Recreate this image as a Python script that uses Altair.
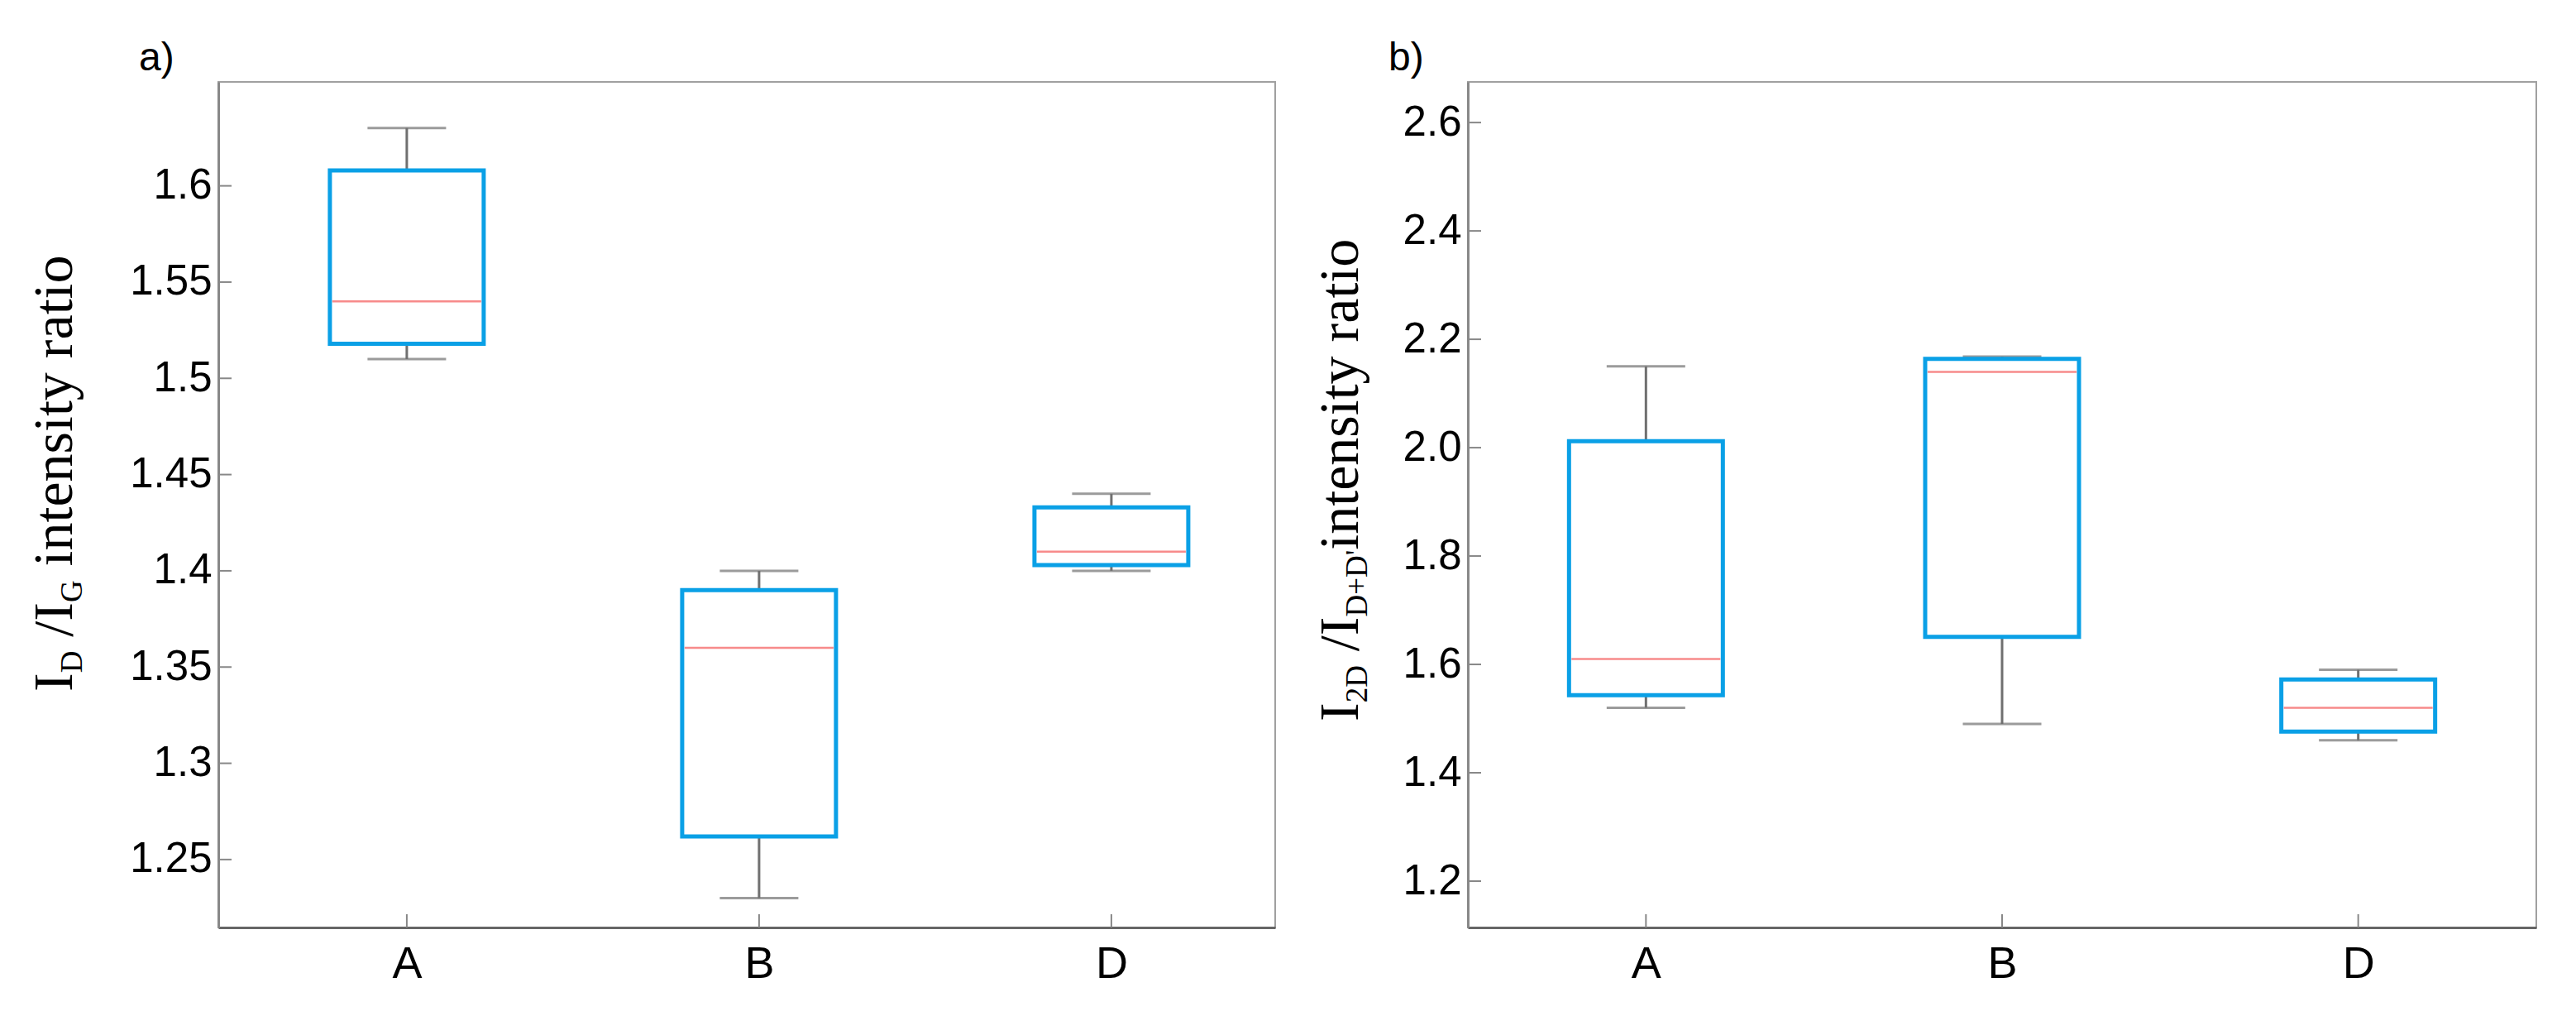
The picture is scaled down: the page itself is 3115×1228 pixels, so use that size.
import altair as alt
import pandas as pd

categories = ["A", "B", "D"]

# panel a) I_D/I_G
a_low = [1.51, 1.23, 1.40]
a_q1 = [1.518, 1.262, 1.403]
a_med = [1.54, 1.36, 1.41]
a_q3 = [1.608, 1.39, 1.433]
a_high = [1.63, 1.40, 1.44]
a_ticks = [1.25, 1.3, 1.35, 1.4, 1.45, 1.5, 1.55, 1.6]

# panel b) I_2D/I_D+D'
b_low = [1.52, 1.49, 1.46]
b_q1 = [1.543, 1.651, 1.476]
b_med = [1.61, 2.14, 1.52]
b_q3 = [2.012, 2.164, 1.572]
b_high = [2.15, 2.168, 1.59]
b_ticks = [1.2, 1.4, 1.6, 1.8, 2.0, 2.2, 2.4, 2.6]

H = 1022
BLUE = "#0aa0e6"
GRAY = "#707070"
RED = "#f45a5a"
SANS = "Liberation Sans"
SERIF = "Liberation Serif"

CW = {'I': .333, 'D': .722, 'G': .722, ' ': .25, '/': .278, 'i': .278, 'n': .5,
      't': .278, 'e': .444, 's': .389, 'y': .5, 'r': .333, 'a': .444, 'o': .5,
      '2': .5, '+': .564, "'": .18}


def title_layers(pieces, x0, y0):
    layers = []
    y = y0
    for txt, fs, shift in pieces:
        lead = len(txt) - len(txt.lstrip(" "))
        y -= lead * CW[' '] * fs
        core = txt.strip(" ")
        layers.append(
            alt.Chart(pd.DataFrame({"t": [core]}))
            .mark_text(font=SERIF, fontSize=fs, angle=270, align="left",
                       baseline="alphabetic", color="black")
            .encode(text="t:N", x=alt.value(x0 + shift), y=alt.value(y))
        )
        y -= sum(CW.get(c, .5) for c in core) * fs
    return layers


def panel(low, q1, med, q3, high, ticks, domain, fmt, width, align, pieces,
          tx, ty, letter):
    df = pd.DataFrame({"cat": categories, "low": low, "q1": q1, "med": med,
                       "q3": q3, "high": high})
    xs = alt.Scale(type="point", padding=0.5, align=align, domain=categories)
    ys = alt.Scale(domain=domain, nice=False, zero=False)
    xaxis = alt.Axis(
        title=None, labelAngle=0, ticks=False, grid=False, domainColor="#666666",
        domainWidth=3, labelFontSize=54, labelFont=SANS, labelColor="black",
        labelPadding=17)
    yaxis = alt.Axis(
        values=ticks, format=fmt, ticks=False, grid=False, title=None,
        domainColor="#888888", domainWidth=3, labelFontSize=51,
        labelFont=SANS, labelColor="black", labelPadding=8)

    def X():
        return alt.X("cat:N", scale=xs, axis=xaxis)

    def Y(f):
        return alt.Y(f, scale=ys, axis=yaxis)

    base = alt.Chart(df)
    whisk = base.mark_rule(color=GRAY, strokeWidth=3).encode(
        x=X(), y=Y("low:Q"), y2="high:Q")
    capl = base.mark_tick(color=GRAY, thickness=3, size=95).encode(
        x=X(), y=Y("low:Q"))
    caph = base.mark_tick(color=GRAY, thickness=3, size=95).encode(
        x=X(), y=Y("high:Q"))
    box = base.mark_bar(size=186, fill="white", stroke=BLUE, strokeWidth=5).encode(
        x=X(), y=Y("q1:Q"), y2="q3:Q")
    medl = base.mark_tick(color=RED, thickness=2.5, size=180).encode(
        x=X(), y=Y("med:Q"))
    yt = alt.Chart(pd.DataFrame({"v": ticks})).mark_rule(
        color="#888888", strokeWidth=2).encode(
        y=Y("v:Q"), x=alt.value(0), x2=alt.value(16))
    xt = alt.Chart(pd.DataFrame({"cat": categories})).mark_rule(
        color="#888888", strokeWidth=2).encode(
        x=X(), y=alt.value(H - 16), y2=alt.value(H))
    lab = alt.Chart(pd.DataFrame({"t": [letter]})).mark_text(
        font=SANS, fontSize=48, align="left", baseline="alphabetic",
        color="black").encode(text="t:N", x=alt.value(-96), y=alt.value(-14))
    layers = [whisk, capl, caph, box, medl, yt, xt, lab] + title_layers(pieces, tx, ty)
    return alt.layer(*layers).properties(width=width, height=H)


MAIN, SUB = 68, 37
pieces_a = [("I", MAIN, 0), ("D", SUB, 12), (" /", MAIN, 0), ("I", MAIN, 0),
            ("G", SUB, 12), (" intensity ratio", MAIN, 0)]
pieces_b = [("I", MAIN, 0), ("2D", SUB, 11), (" /", MAIN, 0), ("I", MAIN, 0),
            ("D+D'", SUB, 11), ("intensity ratio", MAIN, 0)]

pa = panel(a_low, a_q1, a_med, a_q3, a_high, a_ticks, [1.2147, 1.654], "~g",
           1278, 0.535, pieces_a, -177, 737, "a)")
pb = panel(b_low, b_q1, b_med, b_q3, b_high, b_ticks, [1.1145, 2.675], ".1f",
           1292, 0.5, pieces_b, -133, 773, "b)")

chart = alt.hconcat(pa, pb, spacing=43).properties(
    padding={"left": 24, "top": 38, "right": 0, "bottom": 0},
    background="white",
).configure_view(stroke="#a0a0a0", strokeWidth=2)

chart.save("out.html", embed_options={"renderer": "svg", "actions": False})
